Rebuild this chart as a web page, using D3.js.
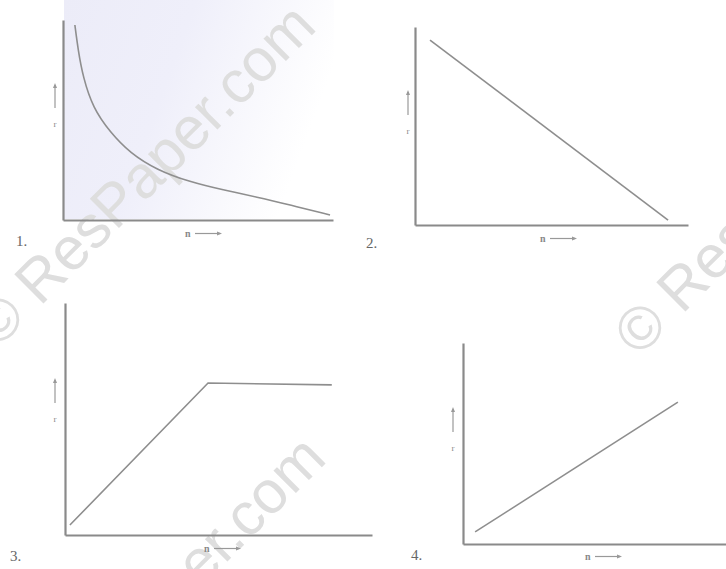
<!DOCTYPE html>
<html>
<head>
<meta charset="utf-8">
<script src="https://cdn.jsdelivr.net/npm/d3@7"></script>
<style>
  body { margin: 0; background: #fff; }
  svg { display: block; }
</style>
</head>
<body>
<svg id="chart" width="726" height="569"></svg>
<script>
// values, in axis units (0..10 on both axes)
const panelNames = ["1.", "2.", "3.", "4."]
const xLabel = "n"
const yLabel = "r"
const watermark = "© ResPaper.com"

// 1: r falls like 1/n
const curve1N = [0.44, 0.56, 0.74, 1.11, 1.74, 2.48, 3.48, 4.7, 5.93, 7.19, 8.41, 9.89]
const curve1R = [9.75, 8.5, 7.15, 5.6, 4.4, 3.35, 2.5, 1.9, 1.5, 1.15, 0.75, 0.25]
// 2: straight fall
const line2N = [0.55, 9.27]
const line2R = [9.34, 0.25]
// 3: rise then flat
const line3N = [0.16, 4.66, 8.69]
const line3R = [0.43, 6.55, 6.47]
// 4: straight rise
const line4N = [0.46, 8.17]
const line4R = [0.6, 7.06]

const series = [
    {n: curve1N, r: curve1R, smooth: true},
    {n: line2N, r: line2R},
    {n: line3N, r: line3R},
    {n: line4N, r: line4R}
]

// where each little graph sits on the page
const layout = [
    {left: 63, right: 333, top: 20, bottom: 220, num: [16, 246], nLab: [185, 237], rLab: [55, 83]},
    {left: 415, right: 688, top: 27, bottom: 225, num: [366, 248], nLab: [540, 242], rLab: [408, 90]},
    {left: 65, right: 372, top: 303, bottom: 535, num: [10, 561], nLab: [204, 552], rLab: [55, 378]},
    {left: 463, right: 726, top: 343, bottom: 544, num: [411, 560], nLab: [585, 560], rLab: [453, 407]}
]

const ink = "#8e8e8e"
svg = d3.select("#chart")

defs = svg.append("defs")
grad = defs.append("linearGradient").attr("id", "lav")
    .attr("x1", 0).attr("x2", 1).attr("y1", 0).attr("y2", 0.3)
grad.append("stop").attr("offset", 0).attr("stop-color", "#ececf8")
grad.append("stop").attr("offset", 0.45).attr("stop-color", "#efeffa")
grad.append("stop").attr("offset", 1).attr("stop-color", "#ffffff")

// lavender tint of the scan inside graph 1
svg.append("rect")
    .attr("x", 64).attr("y", 0).attr("width", 270).attr("height", 219)
    .attr("fill", "url(#lav)")

// watermark
wm = [[-3, 350], [639, 358], [7, 782]]
svg.selectAll("text.wm")
    .data(wm)
    .join("text")
    .attr("class", "wm")
    .attr("transform", d => `translate(${d[0]},${d[1]}) rotate(-45)`)
    .attr("font-family", "Liberation Sans, Arial, sans-serif")
    .attr("font-size", 60)
    .attr("fill", "#dedede")
    .text(watermark)

layout.forEach(function(p, i){
    x = d3.scaleLinear().domain([0, 10]).range([p.left, p.right])
    y = d3.scaleLinear().domain([0, 10]).range([p.bottom, p.top])
    g = svg.append("g")

    g.append("g")
        .attr("transform", `translate(0,${p.bottom})`)
        .call(d3.axisBottom(x).ticks(0).tickSizeOuter(0))
    g.append("g")
        .attr("transform", `translate(${p.left},0)`)
        .call(d3.axisLeft(y).ticks(0).tickSizeOuter(0))
    g.selectAll(".domain")
        .attr("stroke", "#8a8a8a")
        .attr("stroke-width", 2.2)

    s = series[i]
    pts = s.n.map((v, k) => [v, s.r[k]])
    line = d3.line()
        .x(d => x(d[0]))
        .y(d => y(d[1]))
        .curve(s.smooth ? d3.curveBasis : d3.curveLinear)
    g.append("path")
        .attr("d", line(pts))
        .attr("fill", "none")
        .attr("stroke", ink)
        .attr("stroke-width", 1.6)

    g.append("text")
        .attr("x", p.num[0]).attr("y", p.num[1])
        .attr("font-family", "Liberation Serif, serif")
        .attr("font-size", 15)
        .attr("fill", "#666")
        .text(panelNames[i])

    // n ---> under the axis
    g.append("text")
        .attr("x", p.nLab[0]).attr("y", p.nLab[1])
        .attr("font-family", "Liberation Serif, serif")
        .attr("font-size", 10)
        .attr("font-weight", "bold")
        .attr("fill", "#888")
        .text(xLabel)
    ax = p.nLab[0] + 10, ay = p.nLab[1] - 3.5
    g.append("line")
        .attr("x1", ax).attr("x2", ax + 25).attr("y1", ay).attr("y2", ay)
        .attr("stroke", "#999").attr("stroke-width", 1.2)
    g.append("path")
        .attr("d", `M${ax + 27},${ay} l-5,-2 v4 z`)
        .attr("fill", "#999")

    // arrow up and r beside the y axis
    rx = p.rLab[0], ry = p.rLab[1]
    g.append("line")
        .attr("x1", rx).attr("x2", rx).attr("y1", ry + 25).attr("y2", ry + 2)
        .attr("stroke", "#999").attr("stroke-width", 1.2)
    g.append("path")
        .attr("d", `M${rx},${ry} l-2,5 h4 z`)
        .attr("fill", "#999")
    g.append("text")
        .attr("x", rx).attr("y", ry + 44)
        .attr("text-anchor", "middle")
        .attr("font-family", "Liberation Serif, serif")
        .attr("font-size", 9)
        .attr("fill", "#888")
        .text(yLabel)
})
</script>
</body>
</html>
